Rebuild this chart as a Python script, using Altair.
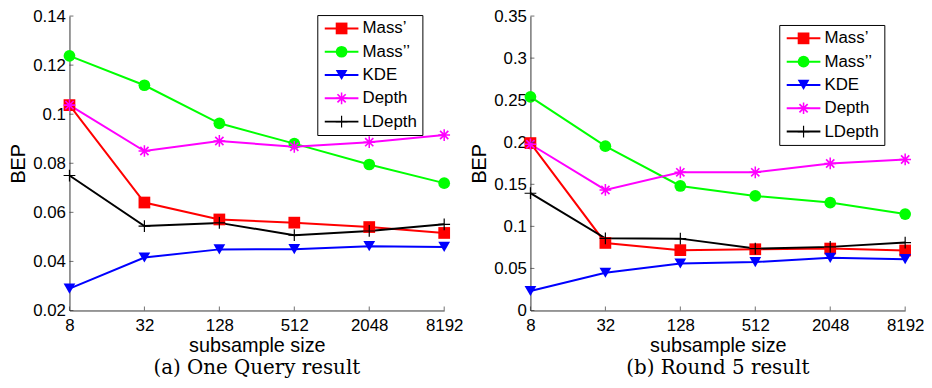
import altair as alt
import pandas as pd

# ---------------- data ----------------
x_vals = [8, 32, 128, 512, 2048, 8192]
series_names = ["Mass’", "Mass’’", "KDE", "Depth", "LDepth"]
series_colors = ["#ff0000", "#00ff00", "#0000ff", "#ff00ff", "#000000"]

# (a) One Query result
a_mass1 = [0.1037, 0.0640, 0.0571, 0.0558, 0.0540, 0.0516]
a_mass2 = [0.1238, 0.1118, 0.0963, 0.0880, 0.0795, 0.0719]
a_kde = [0.0289, 0.0416, 0.0449, 0.0450, 0.0462, 0.0459]
a_depth = [0.1037, 0.0850, 0.0891, 0.0867, 0.0886, 0.0915]
a_ldepth = [0.0750, 0.0544, 0.0557, 0.0507, 0.0524, 0.0551]

# (b) Round 5 result
b_mass1 = [0.1990, 0.0803, 0.0717, 0.0728, 0.0736, 0.0713]
b_mass2 = [0.2540, 0.1953, 0.1480, 0.1362, 0.1283, 0.1146]
b_kde = [0.0232, 0.0449, 0.0559, 0.0575, 0.0626, 0.0610]
b_depth = [0.1976, 0.1433, 0.1642, 0.1642, 0.1748, 0.1795]
b_ldepth = [0.1394, 0.0858, 0.0854, 0.0736, 0.0756, 0.0807]

a_yticks = [0.02, 0.04, 0.06, 0.08, 0.10, 0.12, 0.14]
b_yticks = [0.0, 0.05, 0.10, 0.15, 0.20, 0.25, 0.30, 0.35]

# marker glyphs (asterisk and plus as thin filled bars)
ASTERISK = ("M-1,-0.13L1,-0.13L1,0.13L-1,0.13Z"
            "M-0.13,-1L0.13,-1L0.13,1L-0.13,1Z"
            "M-0.6,-0.8L0.8,0.6L0.6,0.8L-0.8,-0.6Z"
            "M-0.8,0.6L0.6,-0.8L0.8,-0.6L-0.6,0.8Z")
PLUS = ("M-1,-0.1L1,-0.1L1,0.1L-1,0.1Z"
        "M-0.1,-1L0.1,-1L0.1,1L-0.1,1Z")
marker_shapes = ["square", "circle", "triangle-down", ASTERISK, PLUS]
LEGEND_LINE = "M-2.87,0L2.87,0"   # long line sample, same layout size as markers

FONT = "Arial"
W, H = 378, 297
MARK_SIZE = 140
AXIS_COLOR = "#333333"


def make_df(cols):
    rows = []
    for name, vals in zip(series_names, cols):
        for x, y in zip(x_vals, vals):
            rows.append({"x": x, "y": y, "series": name, "series2": name})
    return pd.DataFrame(rows)


def panel(cols, ydomain, yticks, lx, ly, caption):
    df = make_df(cols)
    xs = alt.Scale(type="log", base=2, domain=[8, 8192], nice=False)
    ys = alt.Scale(domain=ydomain, nice=False, zero=False)
    xenc = alt.X("x:Q", scale=xs, axis=alt.Axis(
        values=x_vals, format="d", title="subsample size", ticks=False,
        grid=False, labelFont=FONT, labelFontSize=17, labelColor="black",
        labelPadding=7, titleFont=FONT, titleFontSize=20,
        titleFontWeight="normal", titleColor="black", titlePadding=2,
        domainColor=AXIS_COLOR, labelFlush=False, labelOverlap=False))
    yenc = alt.Y("y:Q", scale=ys, axis=alt.Axis(
        values=yticks, format="~g", title="BEP", ticks=False, grid=False,
        labelFont=FONT, labelFontSize=17, labelColor="black", labelPadding=4,
        titleFont=FONT, titleFontSize=20, titleFontWeight="normal",
        titleColor="black", titlePadding=4, domainColor=AXIS_COLOR,
        labelFlush=False, labelOverlap=False))

    common = dict(orient="none", legendX=lx, legendY=ly, title=None,
                  padding=5, rowPadding=5.5, symbolSize=MARK_SIZE,
                  symbolOffset=11, labelOffset=12.6, labelFont=FONT,
                  labelFontSize=17, labelColor="black")
    # line legend: box, white background and line samples (drawn first)
    leg_lines = alt.Legend(symbolType=LEGEND_LINE, symbolStrokeWidth=2,
                           labelOpacity=0, fillColor="white",
                           strokeColor="black", **common)
    # marker legend: markers and labels (drawn on top)
    leg_marks = alt.Legend(symbolStrokeWidth=0, symbolOpacity=1, **common)

    base = alt.Chart(df)
    lines = base.mark_line(strokeWidth=2).encode(
        x=xenc, y=yenc,
        stroke=alt.Stroke("series:N", sort=series_names,
                          scale=alt.Scale(range=series_colors),
                          legend=leg_lines),
    )
    points = base.mark_point(filled=True, size=MARK_SIZE, opacity=1).encode(
        x=xenc, y=yenc,
        color=alt.Color("series2:N",
                        scale=alt.Scale(domain=series_names,
                                        range=series_colors),
                        legend=leg_marks),
        shape=alt.Shape("series2:N",
                        scale=alt.Scale(domain=series_names,
                                        range=marker_shapes),
                        legend=leg_marks),
    )
    # inward tick marks (MATLAB style)
    yt = alt.Chart(pd.DataFrame({"v": yticks})).mark_tick(
        color=AXIS_COLOR, thickness=1, size=4, orient="horizontal").encode(
        y=alt.Y("v:Q", scale=ys), x=alt.value(2))
    xt = alt.Chart(pd.DataFrame({"v": x_vals})).mark_tick(
        color=AXIS_COLOR, thickness=1, size=4, orient="vertical").encode(
        x=alt.X("v:Q", scale=xs), y=alt.value(H - 2))

    return alt.layer(lines, points, yt, xt).properties(
        width=W, height=H,
        title=alt.TitleParams(caption, orient="bottom", font="DejaVu Serif",
                              fontSize=20, fontWeight="normal", color="black",
                              anchor="middle", offset=3),
    )


left = panel([a_mass1, a_mass2, a_kde, a_depth, a_ldepth], [0.02, 0.14],
             a_yticks, 250, -1, "(a) One Query result")
right = panel([b_mass1, b_mass2, b_kde, b_depth, b_ldepth], [0.0, 0.35],
              b_yticks, 251, 9, "(b) Round 5 result")

chart = alt.hconcat(left, right, spacing=6).resolve_scale(
    x="independent", y="independent", color="independent",
    stroke="independent", shape="independent",
).resolve_legend(
    color="independent", stroke="independent", shape="independent",
).configure_view(stroke=None).properties(
    padding={"left": 0, "top": -2.5, "right": 0, "bottom": 0},
    background="white",
)

chart.save("out.html", embed_options={"renderer": "svg", "actions": False})
